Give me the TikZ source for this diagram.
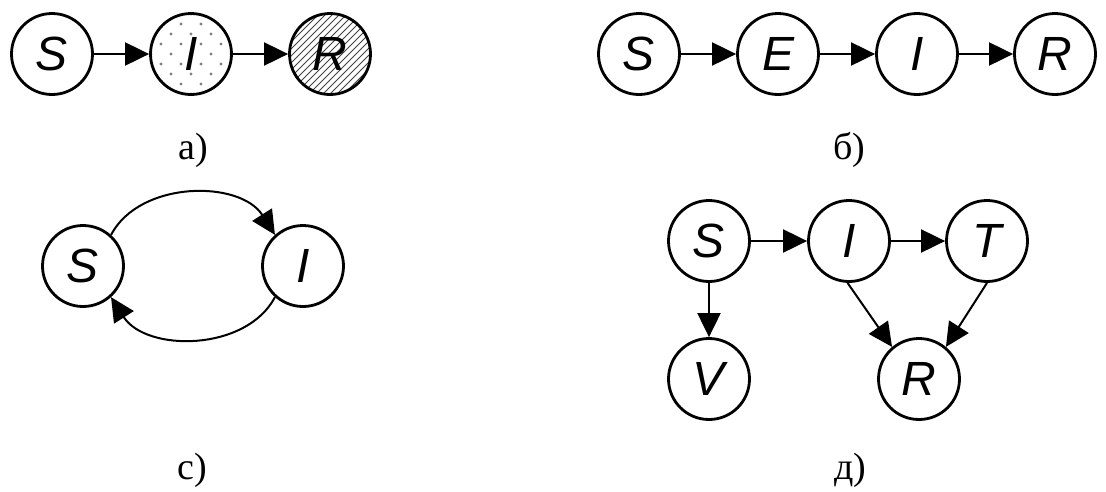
\documentclass[tikz,border=0pt]{standalone}
\usepackage{fontspec}
\setmainfont{Liberation Serif}
\setsansfont{Liberation Sans}
\usetikzlibrary{arrows.meta}
\begin{document}
\begin{tikzpicture}[x=1pt,y=-1pt,
  st/.style={circle,draw,line width=2.8pt,minimum size=81pt,inner sep=0pt,
    font=\fontsize{48}{48}\selectfont\sffamily\itshape},
  arr/.style={line width=2pt,-{Triangle[length=24pt,width=23pt]}},
  lab/.style={font=\fontsize{38}{38}\selectfont}]
\useasboundingbox (0,0) rectangle (1106,491);

% ---- panel a ----
\begin{scope}
  \clip (191,54) circle (40pt);
  \foreach \i in {-3,...,3}{
    \foreach \j in {-3,...,3}{
      \fill[black!50] (191+\i*20,54+\j*20) circle (1.7pt);
      \fill[black!50] (201+\i*20,64+\j*20) circle (1.7pt);
    }}
\end{scope}
\begin{scope}
  \clip (330,54) circle (40pt);
  \foreach \k in {-100,-93,...,100}{
    \draw[line width=1pt,black!75] (330+\k-60,54+60) -- (330+\k+60,54-60);
  }
\end{scope}
\node[st] (aS) at (52,54) {S};
\node[st] (aI) at (191,54) {I};
\node[st] (aR) at (330,54) {R};
\draw[arr] (aS) -- (aI);
\draw[arr] (aI) -- (aR);
\node[lab] (la) at (193,150) {а)};

% ---- panel b ----
\node[st] (bS) at (639,54) {S};
\node[st] (bE) at (778,54) {E};
\node[st] (bI) at (917,54) {I};
\node[st] (bR) at (1055,54) {R};
\draw[arr] (bS) -- (bE);
\draw[arr] (bE) -- (bI);
\draw[arr] (bI) -- (bR);
\node[lab] (lb) at (849,150) {б)};

% ---- panel c ----
\node[st] (cS) at (83,266) {S};
\node[st] (cI) at (303,266) {I};
\draw[arr] (cS.48) .. controls (140,180) and (240,180) .. (cI.132);
\draw[arr] (cI.-132) .. controls (246,352) and (146,352) .. (cS.-48);
\node[lab] (lc) at (192,470) {с)};

% ---- panel d ----
\node[st] (dS) at (709,241) {S};
\node[st] (dI) at (849,241) {I};
\node[st] (dT) at (987,241) {T};
\node[st] (dV) at (709,379) {V};
\node[st] (dR) at (919,379) {R};
\draw[arr] (dS) -- (dI);
\draw[arr] (dI) -- (dT);
\draw[arr] (dS) -- (dV);
\draw[arr] (dI.-92) -- (dR.130);
\draw[arr] (dT.-90) -- (dR.50);
\node[lab] (ld) at (850,470) {д)};
\end{tikzpicture}
\end{document}
